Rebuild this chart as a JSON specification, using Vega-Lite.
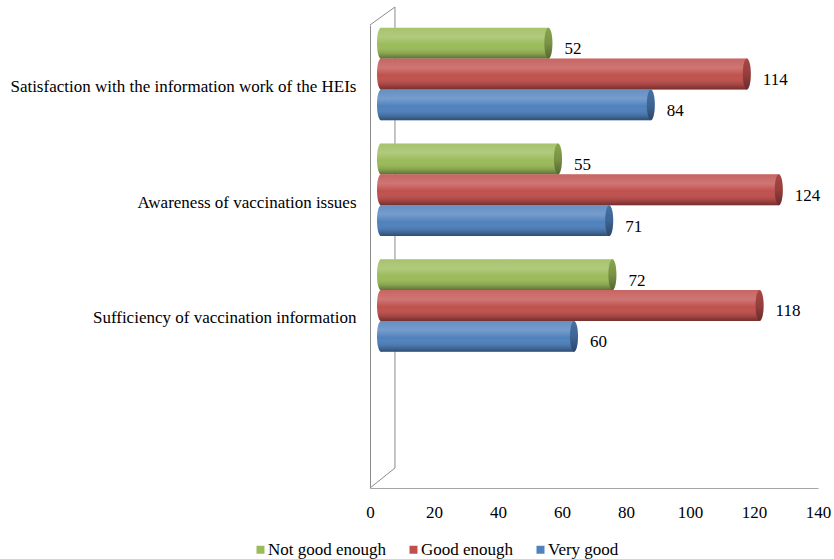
{
  "$schema": "https://vega.github.io/schema/vega-lite/v6.json",
  "width": 448,
  "height": 463,
  "autosize": {"type": "none"},
  "padding": {"left": 370, "top": 25, "right": 16, "bottom": 71},
  "background": "white",
  "config": {
    "view": {"stroke": null},
    "font": "Times New Roman, DejaVu Serif",
    "axis": {"labelFont": "Times New Roman, DejaVu Serif", "labelFontSize": 17, "labelColor": "#000000"},
    "legend": {"labelFont": "Times New Roman, DejaVu Serif", "labelFontSize": 17, "labelColor": "#000000", "symbolType": "square"}
  },
  "data": {
    "values": [
      {"item": "Satisfaction with the information work of the HEIs", "rating": "Not good enough", "count": 52},
      {"item": "Satisfaction with the information work of the HEIs", "rating": "Good enough", "count": 114},
      {"item": "Satisfaction with the information work of the HEIs", "rating": "Very good", "count": 84},
      {"item": "Awareness of vaccination issues", "rating": "Not good enough", "count": 55},
      {"item": "Awareness of vaccination issues", "rating": "Good enough", "count": 124},
      {"item": "Awareness of vaccination issues", "rating": "Very good", "count": 71},
      {"item": "Sufficiency of vaccination information", "rating": "Not good enough", "count": 72},
      {"item": "Sufficiency of vaccination information", "rating": "Good enough", "count": 118},
      {"item": "Sufficiency of vaccination information", "rating": "Very good", "count": 60}
    ]
  },
  "layer": [
    {
      "data": {"values": [{"wall": "back"}]},
      "layer": [
        {
          "mark": {"type": "rule", "color": "#8c8c8c", "strokeWidth": 1},
          "encoding": {
            "x": {"datum": 7.8, "type": "quantitative", "scale": {"domain": [0, 140]}},
            "y": {"value": -18},
            "y2": {"value": 443}
          }
        },
        {
          "mark": {"type": "rule", "color": "#8c8c8c", "strokeWidth": 1},
          "encoding": {
            "x": {"datum": 0, "type": "quantitative"},
            "x2": {"datum": 7.8},
            "y": {"value": 0},
            "y2": {"value": -18}
          }
        },
        {
          "mark": {"type": "rule", "color": "#8c8c8c", "strokeWidth": 1},
          "encoding": {
            "x": {"datum": 0, "type": "quantitative"},
            "x2": {"datum": 7.8},
            "y": {"value": 463},
            "y2": {"value": 443}
          }
        }
      ]
    },
    {
      "encoding": {
        "y": {
          "field": "item",
          "type": "nominal",
          "sort": ["Satisfaction with the information work of the HEIs", "Awareness of vaccination issues", "Sufficiency of vaccination information"],
          "scale": {"paddingInner": 0.2, "paddingOuter": 0.6, "align": 0.0194},
          "axis": {"title": null, "ticks": false, "domainColor": "#8c8c8c", "labelPadding": 14, "labelOffset": 13, "labelLimit": 400}
        },
        "yOffset": {
          "field": "rating",
          "type": "nominal",
          "sort": ["Not good enough", "Good enough", "Very good"],
          "scale": {"paddingInner": 0, "paddingOuter": 0}
        }
      },
      "layer": [
        {
          "mark": {"type": "bar", "xOffset": 12, "x2Offset": 11},
          "encoding": {
            "x": {
              "field": "count",
              "type": "quantitative",
              "stack": null,
              "scale": {"domain": [0, 140]},
              "axis": {"title": null, "values": [0, 20, 40, 60, 80, 100, 120, 140], "grid": false, "ticks": false, "domainColor": "#a6a6a6", "labelPadding": 16, "labelFlush": false}
            },
            "x2": {"datum": 0},
            "color": {
              "field": "rating",
              "type": "nominal",
              "sort": ["Not good enough", "Good enough", "Very good"],
              "scale": {"domain": ["Not good enough", "Good enough", "Very good"], "range": ["#9BBB59", "#C0504D", "#4F81BD"]},
              "legend": {"title": null, "orient": "none", "direction": "horizontal", "legendX": -118, "legendY": 516, "symbolSize": 64, "symbolStrokeWidth": 0, "labelOffset": -1, "columnPadding": 18}
            }
          }
        },
        {
          "mark": {
            "type": "bar",
            "xOffset": 12,
            "x2Offset": 11,
            "color": {
              "gradient": "linear", "x1": 0, "y1": 0, "x2": 0, "y2": 1,
              "stops": [
                {"offset": 0, "color": "rgba(255,255,255,0.12)"},
                {"offset": 0.3, "color": "rgba(255,255,255,0.22)"},
                {"offset": 0.55, "color": "rgba(255,255,255,0)"},
                {"offset": 0.85, "color": "rgba(0,0,0,0.15)"},
                {"offset": 1, "color": "rgba(0,0,0,0.4)"}
              ]
            }
          },
          "encoding": {
            "x": {"field": "count", "type": "quantitative", "stack": null},
            "x2": {"datum": 0}
          }
        },
        {
          "mark": {"type": "point", "filled": true, "opacity": 1, "strokeWidth": 0, "size": 955, "xOffset": 11, "shape": "M0,-1A0.26,1,0,1,1,0,1A0.26,1,0,1,1,0,-1Z"},
          "encoding": {
            "x": {"datum": 0, "type": "quantitative"},
            "color": {"field": "rating", "type": "nominal", "sort": ["Not good enough", "Good enough", "Very good"]}
          }
        },
        {
          "mark": {
            "type": "point", "filled": true, "opacity": 1, "strokeWidth": 0, "size": 955, "xOffset": 11,
            "shape": "M0,-1A0.26,1,0,1,1,0,1A0.26,1,0,1,1,0,-1Z",
            "color": {
              "gradient": "linear", "x1": 0, "y1": 0, "x2": 0, "y2": 1,
              "stops": [
                {"offset": 0, "color": "rgba(255,255,255,0.12)"},
                {"offset": 0.3, "color": "rgba(255,255,255,0.22)"},
                {"offset": 0.55, "color": "rgba(255,255,255,0)"},
                {"offset": 0.85, "color": "rgba(0,0,0,0.15)"},
                {"offset": 1, "color": "rgba(0,0,0,0.4)"}
              ]
            }
          },
          "encoding": {
            "x": {"datum": 0, "type": "quantitative"}
          }
        },
        {
          "mark": {"type": "point", "filled": true, "opacity": 1, "strokeWidth": 0, "size": 955, "xOffset": 12, "shape": "M0,-1A0.26,1,0,1,1,0,1A0.26,1,0,1,1,0,-1Z"},
          "encoding": {
            "x": {"field": "count", "type": "quantitative"},
            "color": {"field": "rating", "type": "nominal", "sort": ["Not good enough", "Good enough", "Very good"]}
          }
        },
        {
          "mark": {
            "type": "point", "filled": true, "opacity": 1, "strokeWidth": 0, "size": 955, "xOffset": 12,
            "shape": "M0,-1A0.26,1,0,1,1,0,1A0.26,1,0,1,1,0,-1Z",
            "color": {
              "gradient": "linear", "x1": 0, "y1": 0, "x2": 0, "y2": 1,
              "stops": [
                {"offset": 0, "color": "rgba(0,0,0,0.12)"},
                {"offset": 0.5, "color": "rgba(0,0,0,0.22)"},
                {"offset": 1, "color": "rgba(0,0,0,0.45)"}
              ]
            }
          },
          "encoding": {
            "x": {"field": "count", "type": "quantitative"}
          }
        },
        {
          "mark": {"type": "text", "align": "left", "baseline": "middle", "dx": 28, "dy": 6, "fontSize": 17, "font": "Times New Roman, DejaVu Serif", "color": "#000000"},
          "encoding": {
            "x": {"field": "count", "type": "quantitative"},
            "text": {"field": "count", "type": "quantitative"}
          }
        }
      ]
    }
  ]
}
